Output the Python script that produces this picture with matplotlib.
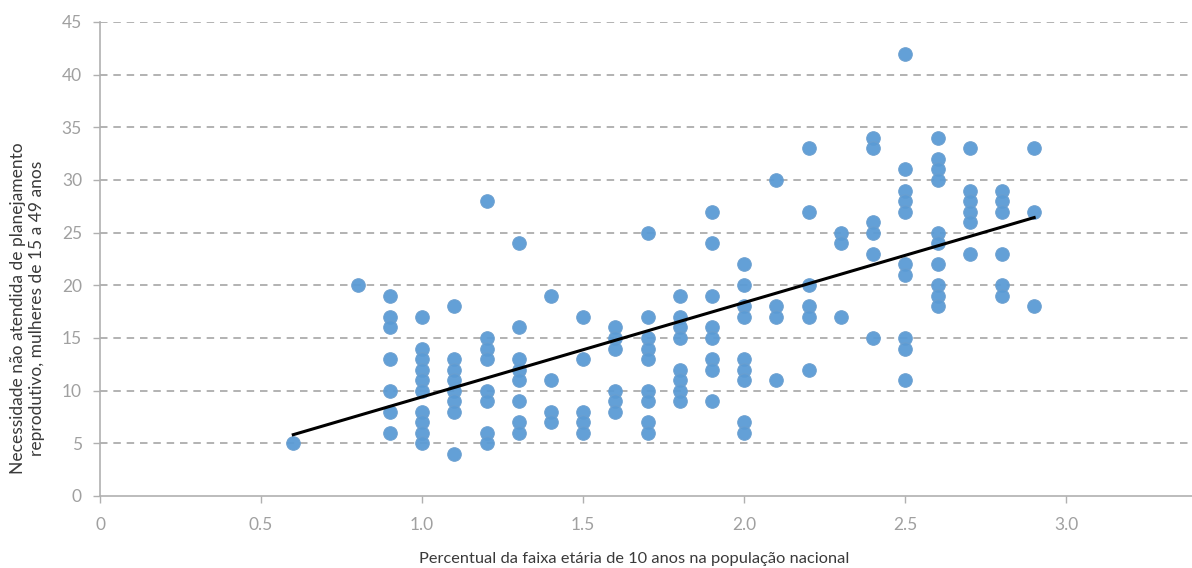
import numpy as np
import matplotlib
matplotlib.use("Agg")
import matplotlib.pyplot as plt

plt.rcParams['font.family'] = ['Lato', 'DejaVu Sans']

# Data: x = share of 10-year age group in population (%), y = unmet need values per column
columns = {
    0.6: [5],
    0.8: [20],
    0.9: [19, 17, 16, 13, 10, 8, 6],
    1.0: [17, 14, 13, 12, 11, 10, 8, 7, 6, 5],
    1.1: [18, 13, 12, 11, 10, 9, 8, 4],
    1.2: [28, 15, 14, 13, 10, 9, 6, 5],
    1.3: [24, 16, 13, 12, 11, 9, 7, 6],
    1.4: [19, 11, 8, 7],
    1.5: [17, 13, 8, 7, 6],
    1.6: [16, 15, 14, 10, 9, 8],
    1.7: [25, 17, 15, 14, 13, 10, 9, 7, 6],
    1.8: [19, 17, 16, 15, 12, 11, 10, 9],
    1.9: [27, 24, 19, 16, 15, 13, 12, 9],
    2.0: [22, 20, 18, 17, 13, 12, 11, 7, 6],
    2.1: [30, 18, 17, 11],
    2.2: [33, 27, 20, 18, 17, 12],
    2.3: [25, 24, 17],
    2.4: [34, 33, 26, 25, 23, 15],
    2.5: [42, 31, 29, 28, 27, 22, 21, 15, 14, 11],
    2.6: [34, 32, 31, 30, 25, 24, 22, 20, 19, 18],
    2.7: [33, 29, 28, 27, 26, 23],
    2.8: [29, 28, 27, 23, 20, 19],
    2.9: [33, 27, 18],
}
x_vals = np.array([k for k, v in columns.items() for _ in v])
y_vals = np.array([yy for v in columns.values() for yy in v])

x_ticks = [0, 0.5, 1.0, 1.5, 2.0, 2.5, 3.0]
x_tick_labels = ["0", "0.5", "1.0", "1.5", "2.0", "2.5", "3.0"]
y_ticks = [0, 5, 10, 15, 20, 25, 30, 35, 40, 45]

fig = plt.figure(figsize=(11.92, 5.68), dpi=100)
ax = fig.add_axes([100/1192, 1 - 496/568, (1192-100)/1192, (496-22)/568])
ax.set_xlim(0, 3.39)
ax.set_ylim(0, 45)

for yy in y_ticks[1:]:
    ax.axhline(yy, color='#a6a6a6', lw=1.2, ls=(0, (4.5, 3.5)), zorder=1)

ax.scatter(x_vals, y_vals, s=95, color='#5b9bd5', edgecolors='#6a9fd0', linewidths=0.8, zorder=3, alpha=0.95)

coef = np.polyfit(x_vals, y_vals, 1)
xl = np.array([x_vals.min(), x_vals.max()])
ax.plot(xl, np.polyval(coef, xl), color='black', lw=2.2, zorder=4)

for s in ['top', 'right']:
    ax.spines[s].set_visible(False)
for s in ['left', 'bottom']:
    ax.spines[s].set_color('#b0b0b0')
    ax.spines[s].set_linewidth(1.2)

ax.set_xticks(x_ticks)
ax.set_xticklabels(x_tick_labels)
ax.set_yticks(y_ticks)
ax.tick_params(axis='both', colors='#b0b0b0', labelcolor='#a0a0a0', labelsize=12.5, length=5, width=1)
ax.tick_params(axis='x', pad=10)
ax.tick_params(axis='y', pad=8)

fig.text(10/1192, 1 - 308/568, "Necessidade não atendida de planejamento\nreprodutivo, mulheres de 15 a 49 anos",
         rotation=90, ha='left', va='center', fontsize=12.5, color='#3a3a3a',
         multialignment='center')
fig.text(634/1192, 1 - 559/568, "Percentual da faixa etária de 10 anos na população nacional",
         ha='center', va='center', fontsize=11.8, color='#3a3a3a')

fig.savefig('out.png', dpi=100)
